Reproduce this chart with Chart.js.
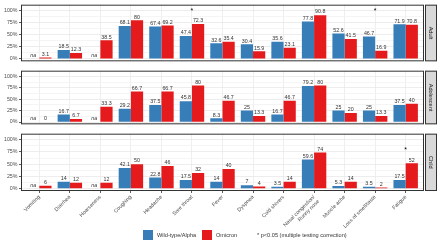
<!DOCTYPE html>
<html>
<head>
<meta charset="utf-8">
<script src="https://cdn.jsdelivr.net/npm/chart.js@4.4.1/dist/chart.umd.min.js"></script>
<style>
  html, body { margin: 0; padding: 0; background: #fff; }
  #wrap { position: relative; width: 440px; height: 247px; overflow: hidden; font-family: "Liberation Sans", Arial, sans-serif; }
  canvas { position: absolute; left: 0; }
  .key { position: absolute; top: 230px; width: 10px; height: 10px; }
  .lbl { position: absolute; top: 231px; font-size: 5.6px; line-height: 8px; color: #333; white-space: nowrap; }
</style>
</head>
<body>
<div id="wrap">
  <canvas id="adult" width="440" height="66" style="top:0px"></canvas>
  <canvas id="adol" width="440" height="63" style="top:66px"></canvas>
  <canvas id="child" width="440" height="118" style="top:129px"></canvas>
  <div class="key" style="left:143px;background:#377EB8"></div>
  <span class="lbl" style="left:157px">Wild-type/Alpha</span>
  <div class="key" style="left:202px;background:#E41A1C"></div>
  <span class="lbl" style="left:216px">Omicron</span>
  <span class="lbl" style="left:257px">* p&lt;0.05 (multiple testing correction)</span>
</div>
<script>
const symptoms = ['Vomiting', 'Diarrhea', 'Hoarseness', 'Coughing', 'Headache', 'Sore throat', 'Fever',
  'Dyspnea', 'Cold shivers', ['Nasal congestion/', 'Runny nose'], 'Muscle ache', 'Loss of smell/taste', 'Fatigue'];

// null = "na"
const adultWild = [null, 18.5, null, 68.1, 67.4, 47.4, 32.6, 30.4, 35.6, 77.8, 52.6, 46.7, 71.9];
const adultOmicron = [3.1, 12.3, 38.5, 80, 69.2, 72.3, 35.4, 15.9, 23.1, 90.8, 41.5, 16.9, 70.8];
const adolWild = [null, 16.7, null, 29.2, 37.5, 45.8, 8.3, 25, 16.7, 79.2, 25, 25, 37.5];
const adolOmicron = [0, 6.7, 33.3, 66.7, 66.7, 80, 46.7, 13.3, 46.7, 80, 20, 13.3, 40];
const childWild = [null, 14, null, 42.1, 22.8, 17.5, 14, 7, 3.5, 59.6, 5.3, 3.5, 17.5];
const childOmicron = [6, 12, 12, 50, 46, 32, 40, 4, 14, 74, 14, 2, 52];

// significant categories (index) and height of the star
const adultSig = [5, 11];
const adolSig = [];
const childSig = [12];

const yTicks = [0, 25, 50, 75, 100];
const yMinor = [12.5, 37.5, 62.5, 87.5];

const BLUE = '#377EB8';
const RED = '#E41A1C';
const FONT = '"Liberation Sans", Arial, sans-serif';

Chart.defaults.font.family = FONT;
Chart.defaults.font.size = 5.3;
Chart.defaults.color = '#4d4d4d';
Chart.defaults.animation = false;

const deco = {
  id: 'deco',
  afterDatasetsDraw(chart, args, opts) {
    const ctx = chart.ctx;
    const xs = chart.scales.x, ys = chart.scales.y;
    const a = chart.chartArea;
    ctx.save();
    ctx.textAlign = 'center';
    ctx.textBaseline = 'bottom';
    ctx.fillStyle = '#333';
    chart.data.datasets.forEach((ds, di) => {
      const meta = chart.getDatasetMeta(di);
      ds.data.forEach((pt, i) => {
        const el = meta.data[i];
        if (pt.y === null) {
          ctx.font = 'italic 5.3px ' + FONT;
          ctx.fillText('na', el.x, ys.getPixelForValue(0) - 0.5);
        } else {
          ctx.font = '5.3px ' + FONT;
          ctx.fillText(String(pt.y), el.x, el.y - 0.5);
        }
      });
    });

    // significance stars
    ctx.fillStyle = '#000';
    ctx.font = '7px ' + FONT;
    ctx.textBaseline = 'middle';
    opts.sig.forEach(i => {
      ctx.fillText('*', xs.getPixelForValue(i + 1), ys.getPixelForValue(opts.sigY) + 1.5);
    });

    // panel border
    ctx.strokeStyle = '#333';
    ctx.lineWidth = 1;
    ctx.strokeRect(a.left + 0.5, a.top + 0.5, a.right - a.left - 1, a.bottom - a.top - 1);

    // facet strip on the right
    const sx = a.right + 1, sw = 12;
    ctx.fillStyle = '#d9d9d9';
    ctx.fillRect(sx, a.top, sw, a.bottom - a.top);
    ctx.strokeRect(sx + 0.5, a.top + 0.5, sw - 1, a.bottom - a.top - 1);
    ctx.translate(sx + sw / 2, (a.top + a.bottom) / 2);
    ctx.rotate(Math.PI / 2);
    ctx.fillStyle = '#1a1a1a';
    ctx.textAlign = 'center';
    ctx.textBaseline = 'middle';
    ctx.font = '5.6px ' + FONT;
    ctx.fillText(opts.strip, 0, 0);
    ctx.restore();
  }
};

function toPoints(arr) {
  return arr.map((v, i) => ({ x: i + 1, y: v }));
}

function makePanel(id, wild, omi, sig, sigY, strip, showX, pad) {
  new Chart(document.getElementById(id), {
    type: 'bar',
    data: {
      datasets: [
        { label: 'Wild-type/Alpha', data: toPoints(wild), backgroundColor: BLUE },
        { label: 'Omicron', data: toPoints(omi), backgroundColor: RED }
      ]
    },
    options: {
      responsive: false,
      layout: { padding: { left: 0, right: 16, top: pad[0], bottom: pad[1] } },
      datasets: { bar: { categoryPercentage: 0.8, barPercentage: 1.0 } },
      plugins: {
        legend: { display: false },
        tooltip: { enabled: false },
        deco: { sig: sig, sigY: sigY, strip: strip }
      },
      scales: {
        x: {
          type: 'linear',
          min: 0.4,
          max: 13.6,
          offset: false,
          afterBuildTicks: s => { s.ticks = symptoms.map((c, i) => ({ value: i + 1 })); },
          afterFit: s => { s.height = showX ? 56 : 0; },
          border: { display: false },
          grid: { offset: false, color: '#ebebeb', lineWidth: 0.8, drawTicks: showX, tickLength: 2, tickColor: '#333' },
          ticks: {
            display: showX,
            autoSkip: false,
            minRotation: 45,
            maxRotation: 45,
            padding: 1,
            color: '#4d4d4d',
            callback: v => symptoms[Math.round(v) - 1]
          }
        },
        y: {
          min: -5,
          max: 112.5,
          afterBuildTicks: s => {
            s.ticks = yTicks.concat(yMinor).sort((p, q) => p - q).map(v => ({ value: v }));
          },
          afterFit: s => { s.width = 21; },
          border: { display: false },
          grid: {
            color: c => (c.tick && c.tick.value % 25 === 0) ? '#e8e8e8' : '#f3f3f3',
            lineWidth: 0.8,
            tickLength: 2,
            tickColor: c => (c.tick && c.tick.value % 25 === 0) ? '#333' : 'rgba(0,0,0,0)'
          },
          ticks: {
            autoSkip: false,
            padding: 1.5,
            color: '#4d4d4d',
            callback: v => (v % 25 === 0 ? v + '%' : '')
          }
        }
      }
    },
    plugins: [deco]
  });
}

makePanel('adult', adultWild, adultOmicron, adultSig, 103, 'Adult', false, [4, 2]);
makePanel('adol', adolWild, adolOmicron, adolSig, 103, 'Adolescent', false, [1.5, 1.5]);
makePanel('child', childWild, childOmicron, childSig, 83, 'Child', true, [2, 0]);
</script>
</body>
</html>
